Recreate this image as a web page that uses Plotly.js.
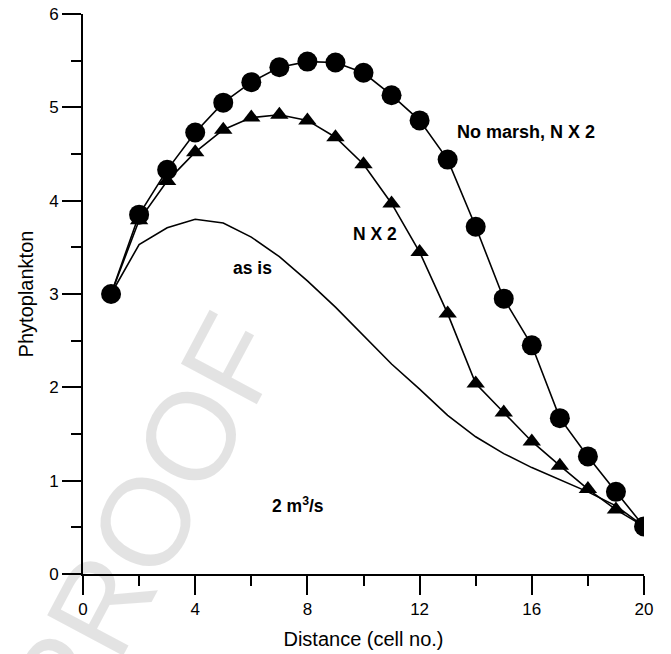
<!DOCTYPE html>
<html>
<head>
<meta charset="utf-8">
<script src="https://cdn.plot.ly/plotly-3.0.1.min.js"></script>
<style>html,body{margin:0;padding:0;background:#fff;}#chart{width:671px;height:654px;}</style>
</head>
<body>
<div id="chart"></div>
<script>
// Distance (cell no.)
const cells = [1,2,3,4,5,6,7,8,9,10,11,12,13,14,15,16,17,18,19,20];
// "No marsh, N X 2" (circles)
const noMarshNx2 = [3.00,3.85,4.33,4.73,5.05,5.27,5.43,5.49,5.48,5.37,5.13,4.86,4.44,3.72,2.95,2.45,1.67,1.26,0.88,0.51];
// "N X 2" (triangles)
const nx2 = [3.00,3.79,4.21,4.52,4.76,4.89,4.92,4.86,4.68,4.39,3.97,3.45,2.79,2.04,1.73,1.42,1.16,0.91,0.69,0.51];
// "as is" (plain line)
const asIs = [3.00,3.53,3.71,3.80,3.76,3.61,3.40,3.14,2.86,2.56,2.25,1.98,1.70,1.47,1.29,1.14,1.01,0.88,0.73,0.51];

const xTicks = [0,4,8,12,16,20];
const yTicks = [0,1,2,3,4,5,6];

const FONT = 'Liberation Sans, Arial, Helvetica, sans-serif';

const traces = [
  {x: cells, y: asIs, type: 'scatter', mode: 'lines', name: 'as is',
   line: {color: '#000', width: 1.6}},
  {x: cells, y: nx2, type: 'scatter', mode: 'lines+markers', name: 'N X 2',
   line: {color: '#000', width: 1.6},
   marker: {symbol: 'triangle-up', size: 16, color: '#000'}},
  {x: cells, y: noMarshNx2, type: 'scatter', mode: 'lines+markers', name: 'No marsh, N X 2',
   line: {color: '#000', width: 1.6},
   marker: {symbol: 'circle', size: 20, color: '#000'}}
];

const axisCommon = {
  showline: true, linecolor: '#000', linewidth: 2,
  showgrid: false, zeroline: false,
  ticks: 'outside', ticklen: 19, tickwidth: 2, tickcolor: '#000',
  tickfont: {family: FONT, size: 17, color: '#000'}
};

const layout = {
  width: 671, height: 654,
  margin: {l: 83, r: 27, t: 14, b: 80},
  paper_bgcolor: '#fff', plot_bgcolor: '#fff',
  showlegend: false,
  font: {family: FONT, color: '#000'},
  xaxis: Object.assign({}, axisCommon, {
    range: [0, 20], tickmode: 'array', tickvals: xTicks, ticktext: xTicks.map(String),
    minor: {dtick: 2, tick0: 0, ticklen: 10, tickwidth: 2, tickcolor: '#000', ticks: 'outside', showgrid: false},
    title: {text: 'Distance (cell no.)', font: {family: FONT, size: 20, color: '#000'}, standoff: 14}
  }),
  yaxis: Object.assign({}, axisCommon, {
    range: [0, 6], tickmode: 'array', tickvals: yTicks, ticktext: yTicks.map(String),
    minor: {dtick: 0.5, tick0: 0, ticklen: 10, tickwidth: 2, tickcolor: '#000', ticks: 'outside', showgrid: false},
    title: {text: 'Phytoplankton', font: {family: FONT, size: 20, color: '#000'}, standoff: 10}
  }),
  annotations: [
    {text: 'PROOF', xref: 'x', yref: 'y', x: 2.22, y: 0.56, showarrow: false,
     textangle: -62, font: {family: FONT, size: 125, color: 'rgba(0,0,0,0.11)'},
     xanchor: 'center', yanchor: 'middle'},
    {text: '<b>No marsh, N X 2</b>', xref: 'x', yref: 'y', x: 13.26, y: 4.74, showarrow: false,
     xanchor: 'left', yanchor: 'middle', font: {family: FONT, size: 18, color: '#000'}},
    {text: '<b>N X 2</b>', xref: 'x', yref: 'y', x: 10.40, y: 3.64, showarrow: false,
     xanchor: 'center', yanchor: 'middle', font: {family: FONT, size: 17.5, color: '#000'}},
    {text: '<b>as is</b>', xref: 'x', yref: 'y', x: 6.05, y: 3.28, showarrow: false,
     xanchor: 'center', yanchor: 'middle', font: {family: FONT, size: 17.5, color: '#000'}},
    {text: '<b>2 m<sup>3</sup>/s</b>', xref: 'x', yref: 'y', x: 7.65, y: 0.74, showarrow: false,
     xanchor: 'center', yanchor: 'middle', font: {family: FONT, size: 17.5, color: '#000'}}
  ]
};

Plotly.newPlot('chart', traces, layout, {staticPlot: true, displayModeBar: false});
</script>
</body>
</html>
